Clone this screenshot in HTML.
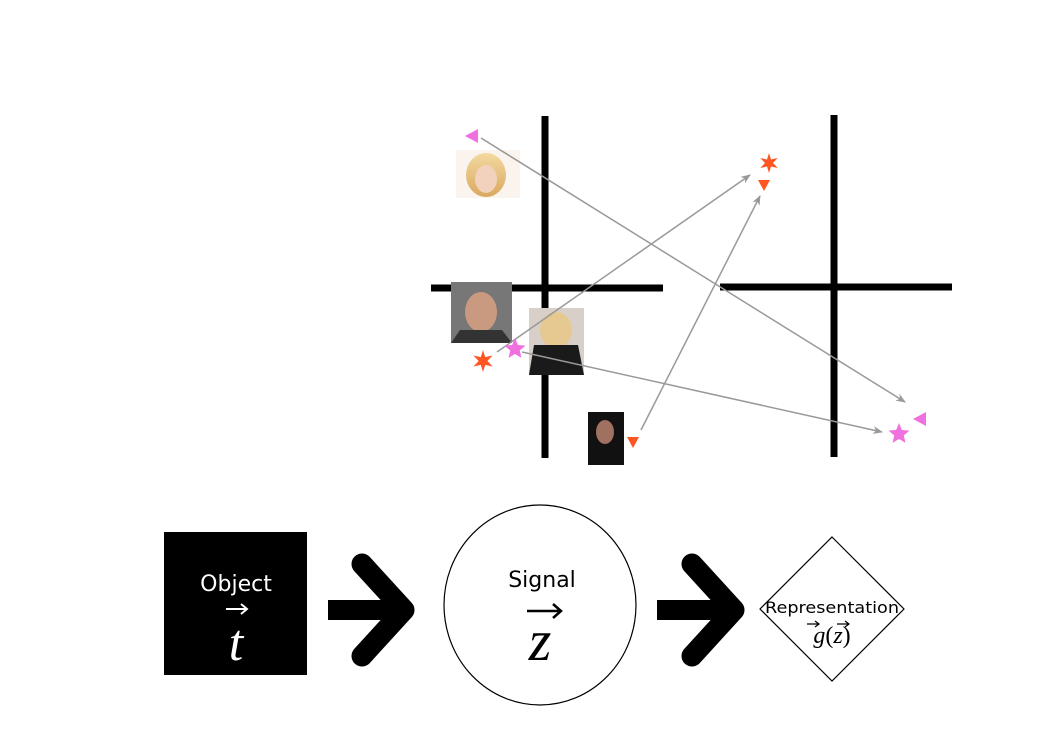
<!DOCTYPE html>
<html><head><style>body{margin:0;background:#fff}svg{display:block}</style></head><body>
<svg width="1052" height="744" xmlns="http://www.w3.org/2000/svg">
<defs>
<marker id="ah" markerWidth="10" markerHeight="8" refX="9" refY="4" orient="auto" markerUnits="userSpaceOnUse"><path d="M0,0 L10,4 L0,8 L3,4 Z" fill="#999"/></marker>
<linearGradient id="f1" x1="0" y1="0" x2="0" y2="1"><stop offset="0" stop-color="#f3d9a0"/><stop offset="1" stop-color="#d9a860"/></linearGradient>
<path id="s5" d="M0,-1 L0.26,-0.36 L0.95,-0.31 L0.43,0.14 L0.59,0.81 L0,0.45 L-0.59,0.81 L-0.43,0.14 L-0.95,-0.31 L-0.26,-0.36Z"/>
<path id="s6" d="M0,-1 L0.2,-0.35 L0.87,-0.5 L0.4,0 L0.87,0.5 L0.2,0.35 L0,1 L-0.2,0.35 L-0.87,0.5 L-0.4,0 L-0.87,-0.5 L-0.2,-0.35Z"/>
</defs>
<g stroke="#000" stroke-width="7">
<line x1="545" y1="116" x2="545" y2="458"/><line x1="431" y1="288" x2="663" y2="288"/>
<line x1="834" y1="115" x2="834" y2="457"/><line x1="720" y1="287" x2="952" y2="287"/>
</g>
<rect x="456" y="150" width="64" height="48" fill="#fbf4ee"/>
<ellipse cx="486" cy="175" rx="20" ry="22" fill="url(#f1)"/>
<ellipse cx="486" cy="179" rx="11" ry="14" fill="#f2d2bc"/>
<rect x="451" y="282" width="61" height="61" fill="#777"/>
<ellipse cx="481" cy="312" rx="16" ry="20" fill="#c99a80"/>
<path d="M451,343 L460,330 L502,330 L512,343Z" fill="#333"/>
<rect x="529" y="308" width="55" height="67" fill="#d8d0c8"/>
<ellipse cx="556" cy="330" rx="16" ry="18" fill="#e6c990"/>
<path d="M529,375 L534,345 L578,345 L584,375Z" fill="#1a1a1a"/>
<rect x="588" y="412" width="36" height="53" fill="#111"/>
<ellipse cx="605" cy="432" rx="9" ry="12" fill="#a07060"/>
<g stroke="#999" stroke-width="1.5" fill="none" marker-end="url(#ah)">
<line x1="481" y1="138" x2="905" y2="402"/>
<line x1="497" y1="352" x2="750" y2="175"/>
<line x1="522" y1="352" x2="882" y2="432"/>
<line x1="641" y1="430" x2="760" y2="196"/>
</g>
<path d="M465,136 L478,129 L478,143Z" fill="#f070e0"/>
<path d="M913,419 L926,412 L926,426Z" fill="#f070e0"/>
<path d="M627,437 L639,437 L633,448Z" fill="#ff5522"/>
<path d="M758,180 L770,180 L764,191Z" fill="#ff5522"/>
<use href="#s6" transform="translate(483,361) scale(11)" fill="#ff5522"/>
<use href="#s6" transform="translate(769,163) scale(10)" fill="#ff5522"/>
<use href="#s5" transform="translate(515,349) scale(11)" fill="#f070e0"/>
<use href="#s5" transform="translate(899,434) scale(11)" fill="#f070e0"/>
<rect x="164" y="532" width="143" height="143" fill="#000"/>
<text x="236" y="591" fill="#fff" font-family="DejaVu Sans" font-size="22" text-anchor="middle">Object</text>
<text x="236" y="660" fill="#fff" font-family="Liberation Serif" font-style="italic" font-size="52" text-anchor="middle">t</text>
<path d="M226,609 L246,609 M241,604 L247,609 L241,614" stroke="#fff" stroke-width="2" fill="none"/>
<g stroke="#000" stroke-width="21" fill="none" stroke-linecap="round" stroke-linejoin="round">
<path d="M362,564 L404,610 L362,656"/><path d="M692,564 L734,610 L692,656"/>
</g>
<rect x="328" y="600" width="80" height="20"/>
<rect x="657" y="600" width="80" height="20"/>
<ellipse cx="540" cy="605" rx="96" ry="100" fill="none" stroke="#000" stroke-width="1.2"/>
<text x="542" y="587" font-family="DejaVu Sans" font-size="22" text-anchor="middle">Signal</text>
<text x="540" y="660" font-family="Liberation Serif" font-style="italic" font-size="58" text-anchor="middle">z</text>
<path d="M527,611 L560,611 M553,604 L561,611 L553,618" stroke="#000" stroke-width="2.5" fill="none"/>
<path d="M832,537 L904,609 L832,681 L760,609Z" fill="none" stroke="#000" stroke-width="1.2"/>
<text x="832" y="613" font-family="DejaVu Sans" font-size="16" text-anchor="middle" textLength="134" lengthAdjust="spacingAndGlyphs">Representation</text>
<text x="832" y="643" font-family="Liberation Serif" font-size="24" text-anchor="middle"><tspan font-style="italic">g</tspan>(<tspan font-style="italic">z</tspan>)</text>
<path d="M807,624 L818,624 M815,621 L819,624 L815,627 M837,624 L848,624 M845,621 L849,624 L845,627" stroke="#000" stroke-width="1.2" fill="none"/>
</svg>
</body></html>
